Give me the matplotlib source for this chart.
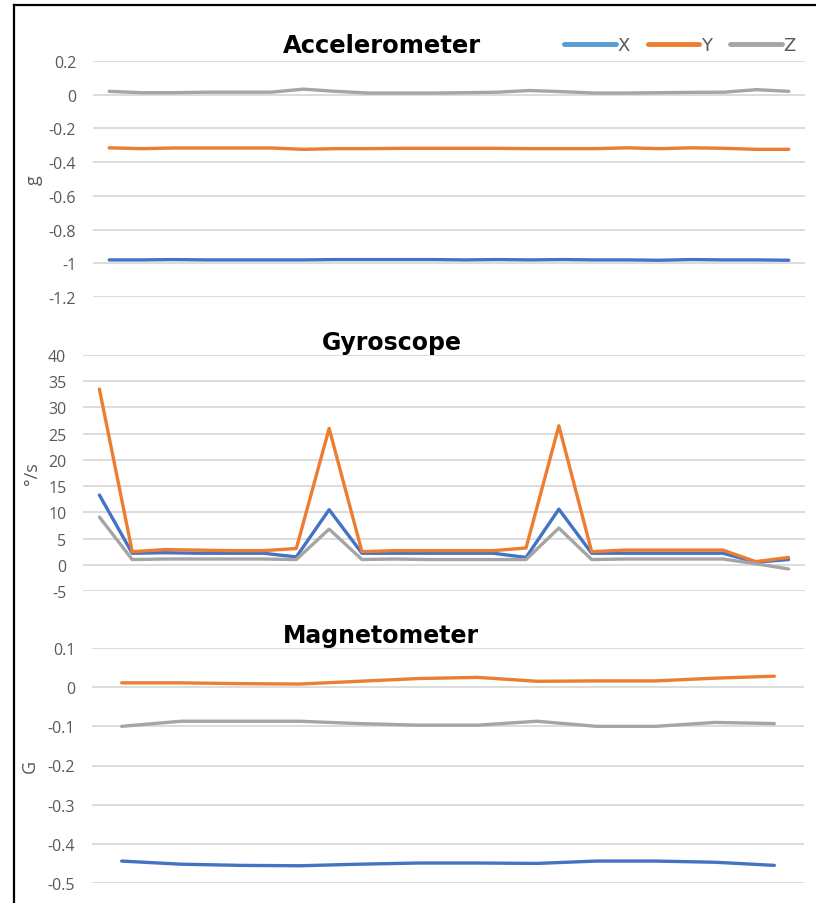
import matplotlib
matplotlib.use("Agg")
import matplotlib.pyplot as plt
from matplotlib import font_manager
from matplotlib.lines import Line2D
import numpy as np

# --- data -------------------------------------------------------------
acc_x = [-0.980, -0.980, -0.978, -0.980, -0.980, -0.980, -0.980, -0.978, -0.978, -0.978,
         -0.978, -0.980, -0.978, -0.980, -0.978, -0.980, -0.980, -0.982, -0.978, -0.980,
         -0.980, -0.982]
acc_y = [-0.315, -0.320, -0.316, -0.316, -0.316, -0.316, -0.324, -0.320, -0.320, -0.318,
         -0.318, -0.318, -0.318, -0.320, -0.320, -0.320, -0.315, -0.320, -0.315, -0.318,
         -0.324, -0.324]
acc_z = [0.020, 0.012, 0.012, 0.015, 0.015, 0.015, 0.033, 0.020, 0.010, 0.010,
         0.010, 0.012, 0.015, 0.025, 0.018, 0.010, 0.010, 0.012, 0.014, 0.015,
         0.030, 0.020]

gyr_x = [13.3, 2.2, 2.3, 2.2, 2.2, 2.2, 1.5, 10.5, 2.2, 2.2,
         2.2, 2.2, 2.2, 1.4, 10.6, 2.2, 2.2, 2.2, 2.2, 2.2,
         0.5, 1.0]
gyr_y = [33.5, 2.5, 2.9, 2.8, 2.7, 2.7, 3.1, 26.0, 2.5, 2.7,
         2.7, 2.7, 2.7, 3.2, 26.5, 2.5, 2.8, 2.8, 2.8, 2.8,
         0.6, 1.4]
gyr_z = [9.1, 1.0, 1.1, 1.1, 1.1, 1.1, 1.0, 6.8, 1.0, 1.1,
         1.0, 1.0, 1.0, 1.0, 7.0, 1.0, 1.1, 1.1, 1.1, 1.1,
         0.2, -0.8]

mag_x = [-0.444, -0.452, -0.455, -0.456, -0.452, -0.449, -0.449, -0.450, -0.444, -0.444,
         -0.447, -0.455]
mag_y = [0.011, 0.011, 0.009, 0.008, 0.015, 0.022, 0.025, 0.015, 0.016, 0.016,
         0.023, 0.028]
mag_z = [-0.100, -0.087, -0.087, -0.087, -0.093, -0.097, -0.097, -0.087, -0.100, -0.100,
         -0.090, -0.093]

series_names = ["X", "Y", "Z"]
acc_ticks = [0.2, 0, -0.2, -0.4, -0.6, -0.8, -1, -1.2]
gyr_ticks = [40, 35, 30, 25, 20, 15, 10, 5, 0, -5]
mag_ticks = [0.1, 0, -0.1, -0.2, -0.3, -0.4, -0.5]

# --- styling -------------------------------------------------------------
COLORS = ["#4472C4", "#ED7D31", "#A5A5A5"]
LEGEND_COLORS = ["#5B9BD5", "#ED7D31", "#A5A5A5"]
GRID = "#DCDCDC"
TICK = "#595959"

available = {f.name for f in font_manager.fontManager.ttflist}
NARROW = "Liberation Sans Narrow" if "Liberation Sans Narrow" in available else "DejaVu Sans"
plt.rcParams["font.family"] = ["Open Sans", "DejaVu Sans"]

W, H = 816, 904
fig = plt.figure(figsize=(W / 100, H / 100), dpi=100)
fig.patch.set_facecolor("white")


def px_axes(x0, x1, y0, y1):
    return fig.add_axes([x0 / W, 1 - y1 / H, (x1 - x0) / W, (y1 - y0) / H])


def fmt(v):
    return "0" if v == 0 else "%g" % v


def style(ax, ticks, n, ylabel, lab_x):
    ax.set_xlim(-0.5, n - 0.5)
    ax.set_ylim(min(ticks), max(ticks))
    ax.set_yticks(ticks)
    ax.set_yticklabels([fmt(t) for t in ticks], color=TICK, fontsize=11.5)
    ax.set_xticks([])
    ax.tick_params(axis="y", length=0, pad=12)
    for s in ax.spines.values():
        s.set_visible(False)
    ax.grid(axis="y", color=GRID, linewidth=1.4)
    ax.set_axisbelow(True)
    ax.set_ylabel(ylabel, color=TICK, fontsize=13)
    ax.yaxis.set_label_coords(lab_x, 0.5)


def draw(ax, data):
    idx = np.arange(len(data[0]))
    for vals, c in zip(data, COLORS):
        ax.plot(idx, vals, color=c, linewidth=2.4, solid_capstyle="round",
                solid_joinstyle="round", clip_on=False)


# Accelerometer
ax1 = px_axes(93, 805, 62, 298)
draw(ax1, [acc_x, acc_y, acc_z])
style(ax1, acc_ticks, len(acc_x), "g", (43 - 93) / 712)
fig.text(382 / W, 1 - 46 / H, "Accelerometer", ha="center", va="center",
         fontsize=17.5, fontweight="bold", family=NARROW)
handles = [Line2D([], [], color=c, linewidth=3.5, solid_capstyle="round")
           for c in LEGEND_COLORS]
fig.legend(handles, series_names, loc="center", bbox_to_anchor=(680 / W, 1 - 46 / H),
           ncol=3, frameon=False, handlelength=2.85, handletextpad=0.1,
           columnspacing=1.0, prop={"family": NARROW, "size": 13},
           labelcolor=TICK)

# Gyroscope
ax2 = px_axes(83, 805, 356, 592)
draw(ax2, [gyr_x, gyr_y, gyr_z])
style(ax2, gyr_ticks, len(gyr_x), "°/s", (41 - 83) / 722)
fig.text(392 / W, 1 - 343 / H, "Gyroscope", ha="center", va="center",
         fontsize=17, fontweight="bold", family="DejaVu Sans")

# Magnetometer
ax3 = px_axes(92, 804, 649, 884)
draw(ax3, [mag_x, mag_y, mag_z])
style(ax3, mag_ticks, len(mag_x), "G", (39 - 92) / 712)
fig.text(381 / W, 1 - 636 / H, "Magnetometer", ha="center", va="center",
         fontsize=17, fontweight="bold", family="DejaVu Sans")

# frame edges along the left and top of the figure
fig.add_artist(Line2D([14 / W, 14 / W], [0, 1 - 6 / H], color="black", linewidth=1.6,
                      transform=fig.transFigure))
fig.add_artist(Line2D([14 / W, 1], [1 - 6 / H, 1 - 6 / H], color="black", linewidth=1.6,
                      transform=fig.transFigure))

fig.savefig("out.png", dpi=100, facecolor="white")
